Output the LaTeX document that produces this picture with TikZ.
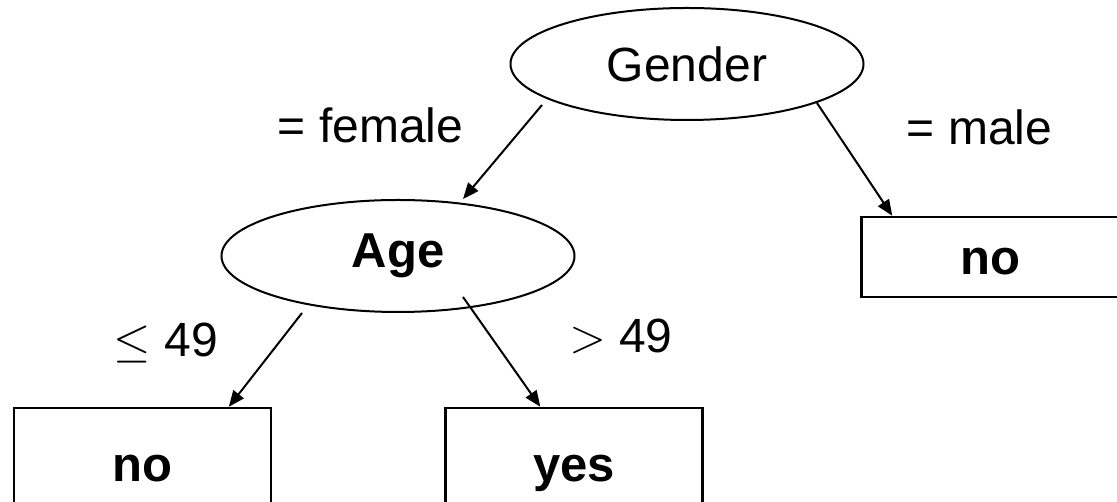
\RequirePackage{fix-cm}
\documentclass[tikz,border=0pt]{standalone}
\usepackage{fontspec}
\setmainfont{Liberation Sans}
\usepackage{tikz}
\usetikzlibrary{arrows.meta,calc,shapes.geometric}
\tikzset{
  attr/.style={draw, ellipse, line width=2pt, minimum width=353pt, minimum height=112pt, inner sep=0pt},
  leaf/.style={draw, rectangle, line width=2.4pt, minimum width=257pt, inner sep=0pt, text height=36pt, text depth=0pt, font=\fontsize{49}{58}\selectfont\bfseries},
  lbl/.style={anchor=base, inner sep=0pt, font=\fontsize{48}{56}\selectfont},
  arr/.style={-{Triangle[length=16pt,width=13pt]}, line width=2pt},
}

\begin{document}
\begin{tikzpicture}[x=1pt, y=1pt]
\useasboundingbox (0,0) rectangle (1117,502);
\node[attr, font=\fontsize{48}{56}\selectfont] (gender) at (687,438) {Gender};
\node[attr, font=\fontsize{49}{58}\selectfont\bfseries] (age) at (398,246) {Age};
\node[leaf, minimum height=80pt] (noR) at (990,245) {no};
\node[leaf, minimum height=112pt] (noL) at (142.5,38) {no};
\node[leaf, minimum height=112pt] (yes) at (574,38) {yes};
% branch labels
\node[lbl] (female) at (370.5,359) {= female};
\node[lbl] (male) at (979.5,357) {= male};
\node[lbl] (le) at (166,145) {$\leq$ 49};
\node[lbl] (gt) at (621,149) {$>$ 49};
\draw[arr] ($(gender.center)+(-145,-41)$) -- ($(age.center)+(65,57)$);
\draw[arr] ($(gender.center)+(130,-39)$) -- ($(noR.north west)+(32,0)$);
\draw[arr] ($(age.center)+(-96,-57)$) -- ($(noL.north west)+(216,0)$);
\draw[arr] ($(age.center)+(65,-41)$) -- ($(yes.north west)+(96,0)$);
\end{tikzpicture}
\end{document}
